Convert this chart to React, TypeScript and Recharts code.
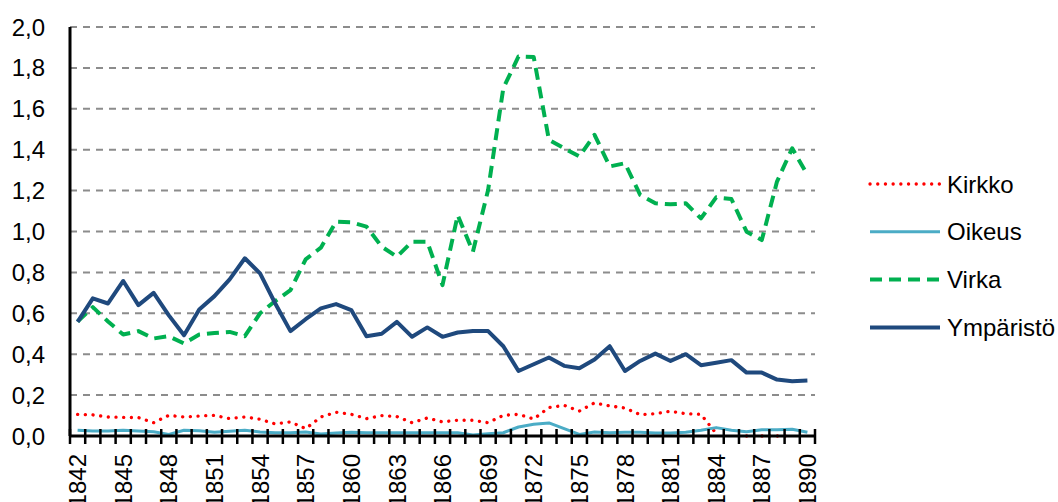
import React from 'react';
import { LineChart, Line, XAxis, YAxis, CartesianGrid } from 'recharts';

// vuodet 1842-1890
const YEARS = [
  1842, 1843, 1844, 1845, 1846, 1847, 1848, 1849, 1850, 1851,
  1852, 1853, 1854, 1855, 1856, 1857, 1858, 1859, 1860, 1861,
  1862, 1863, 1864, 1865, 1866, 1867, 1868, 1869, 1870, 1871,
  1872, 1873, 1874, 1875, 1876, 1877, 1878, 1879, 1880, 1881,
  1882, 1883, 1884, 1885, 1886, 1887, 1888, 1889, 1890,
];

const KIRKKO = [
  0.106, 0.103, 0.093, 0.091, 0.09, 0.065, 0.101, 0.093, 0.098, 0.101,
  0.085, 0.093, 0.082, 0.059, 0.069, 0.036, 0.093, 0.116, 0.106, 0.085,
  0.1, 0.095, 0.065, 0.088, 0.069, 0.077, 0.077, 0.065, 0.101, 0.106,
  0.083, 0.139, 0.15, 0.122, 0.162, 0.147, 0.137, 0.104, 0.109, 0.121,
  0.109, 0.106, 0.012, null, 0, 0, 0, 0, null,
];

const OIKEUS = [
  0.028, 0.024, 0.024, 0.028, 0.024, 0.021, 0.008, 0.028, 0.026, 0.018,
  0.023, 0.028, 0.02, 0.016, 0.016, 0.02, 0.01, 0.015, 0.018, 0.016,
  0.016, 0.016, 0.016, 0.016, 0.016, 0.016, 0.005, 0.011, 0.016, 0.044,
  0.057, 0.064, 0.036, 0.008, 0.02, 0.016, 0.018, 0.018, 0.015, 0.015,
  0.018, 0.028, 0.041, 0.028, 0.021, 0.031, 0.031, 0.033, 0.018,
];

const VIRKA = [
  0.56, 0.63, 0.56, 0.496, 0.513, 0.477, 0.488, 0.452, 0.496, 0.504,
  0.509, 0.488, 0.6, 0.66, 0.713, 0.864, 0.921, 1.048, 1.045, 1.024,
  0.926, 0.877, 0.95, 0.95, 0.738, 1.08, 0.901, 1.203, 1.701, 1.856,
  1.853, 1.448, 1.407, 1.367, 1.473, 1.318, 1.334, 1.179, 1.138, 1.133,
  1.138, 1.064, 1.167, 1.159, 0.999, 0.958, 1.244, 1.407, 1.277,
];

const YMPARISTO = [
  0.558, 0.673, 0.648, 0.758, 0.64, 0.7, 0.59, 0.493, 0.619, 0.684,
  0.766, 0.869, 0.795, 0.648, 0.513, 0.571, 0.624, 0.645, 0.616, 0.488,
  0.5, 0.558, 0.485, 0.531, 0.485, 0.506, 0.514, 0.513, 0.439, 0.318,
  0.351, 0.384, 0.343, 0.331, 0.374, 0.439, 0.318, 0.367, 0.403, 0.367,
  0.4, 0.346, 0.358, 0.371, 0.31, 0.31, 0.276, 0.268, 0.271,
];

const Y_TICKS = [0, 0.2, 0.4, 0.6, 0.8, 1.0, 1.2, 1.4, 1.6, 1.8, 2.0];

const data = YEARS.map((year, i) => ({
  year,
  Kirkko: KIRKKO[i],
  Oikeus: OIKEUS[i],
  Virka: VIRKA[i],
  'Ympäristö': YMPARISTO[i],
}));

const SERIES = [
  { key: 'Kirkko', color: '#ff0000', width: 3.3, dash: '0.1 7.6', cap: 'round' },
  { key: 'Oikeus', color: '#4bacc6', width: 3, dash: undefined, cap: 'butt' },
  { key: 'Virka', color: '#00b050', width: 4, dash: '12 7', cap: 'butt' },
  { key: 'Ympäristö', color: '#1f497d', width: 4, dash: undefined, cap: 'butt' },
];

const W = 1058;
const H = 502;
const M = { top: 27, right: 243, left: 0, bottom: 0 };
const Y_W = 70;
const PLOT_W = W - M.left - M.right - Y_W;
const STEP = PLOT_W / YEARS.length;
const FONT = '"Liberation Sans", Arial, sans-serif';

const YearTick = (props: any) => {
  const { x, y, payload, index } = props;
  const half = STEP / 2;
  const ty = y + 18;
  return (
    <g>
      <line x1={x - half} x2={x - half} y1={y - 7} y2={y + 8} stroke="#000" strokeWidth={2.5} />
      {index === YEARS.length - 1 && (
        <line x1={x + half} x2={x + half} y1={y - 7} y2={y + 8} stroke="#000" strokeWidth={2.5} />
      )}
      {index % 3 === 0 && (
        <text
          x={x}
          y={ty}
          dy="0.36em"
          transform={`rotate(-90, ${x}, ${ty})`}
          textAnchor="end"
          fontSize={24}
          fontFamily={FONT}
          fill="#000"
        >
          {payload.value}
        </text>
      )}
    </g>
  );
};

const LegendBox = () => (
  <svg width={200} height={200} style={{ position: 'absolute', left: 860, top: 160 }}>
    {SERIES.map((s, i) => {
      const cy = 24 + i * 47.8;
      return (
        <g key={s.key}>
          <line
            x1={10}
            x2={80}
            y1={cy}
            y2={cy}
            stroke={s.color}
            strokeWidth={s.width}
            strokeDasharray={s.dash}
            strokeLinecap={s.cap as any}
          />
          <text x={87} y={cy} dy="0.36em" fontSize={24} fontFamily={FONT} fill="#000">
            {s.key}
          </text>
        </g>
      );
    })}
  </svg>
);

export default function App() {
  return (
    <div style={{ position: 'absolute', left: 0, top: 0, width: W, height: H, background: '#fff', fontFamily: FONT }}>
      <LineChart width={W} height={H} data={data} margin={M}>
        <CartesianGrid
          vertical={false}
          stroke="#8c8c8c"
          strokeWidth={2}
          strokeDasharray="7 6"
        />
        <YAxis
          width={Y_W}
          domain={[0, 2]}
          ticks={Y_TICKS}
          interval={0}
          tickFormatter={(v: number) => v.toFixed(1).replace('.', ',')}
          tick={{ fontSize: 24, fill: '#000', fontFamily: FONT }}
          tickLine={false}
          tickSize={0}
          tickMargin={25}
          axisLine={{ stroke: '#000', strokeWidth: 3 }}
        />
        <XAxis
          dataKey="year"
          type="category"
          interval={0}
          height={H - M.top - 409}
          padding={{ left: STEP / 2, right: STEP / 2 }}
          tick={(p: any) => <YearTick {...p} />}
          tickLine={false}
          tickSize={0}
          tickMargin={0}
          axisLine={{ stroke: '#000', strokeWidth: 3 }}
        />
        {SERIES.map((s) => (
          <Line
            key={s.key}
            type="linear"
            dataKey={s.key}
            stroke={s.color}
            strokeWidth={s.width}
            strokeDasharray={s.dash}
            strokeLinecap={s.cap as any}
            strokeLinejoin="round"
            dot={false}
            activeDot={false}
            isAnimationActive={false}
          />
        ))}
      </LineChart>
      <LegendBox />
    </div>
  );
}
